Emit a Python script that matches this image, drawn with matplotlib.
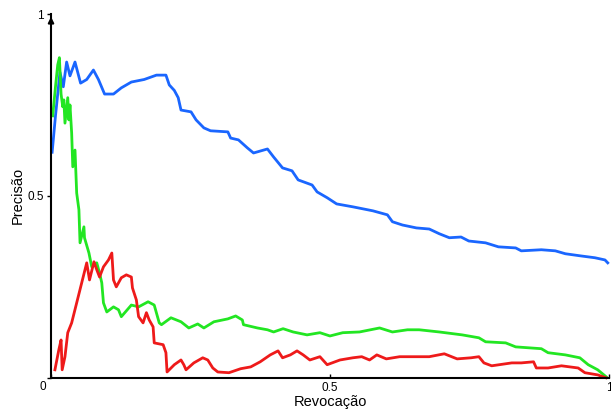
import matplotlib
matplotlib.use("Agg")
import matplotlib.pyplot as plt

plt.rcParams['font.family'] = ['Liberation Sans', 'DejaVu Sans']

# Blue series (recall, precision)
blue_recall = [0.002, 0.008, 0.016, 0.022, 0.028, 0.034, 0.043, 0.053, 0.064, 0.076, 0.085, 0.096,
               0.112, 0.126, 0.144, 0.167, 0.189, 0.206, 0.212, 0.221, 0.228, 0.233, 0.251, 0.26,
               0.274, 0.286, 0.317, 0.322, 0.336, 0.352, 0.363, 0.388, 0.399, 0.415, 0.432, 0.443,
               0.468, 0.477, 0.495, 0.512, 0.541, 0.577, 0.603, 0.612, 0.630, 0.655, 0.678, 0.696,
               0.714, 0.735, 0.749, 0.779, 0.802, 0.833, 0.843, 0.879, 0.904, 0.922, 0.950, 0.975,
               0.993, 0.998]
blue_precision = [0.62, 0.72, 0.84, 0.80, 0.868, 0.83, 0.868, 0.81, 0.82, 0.846, 0.82, 0.78,
                  0.78, 0.797, 0.813, 0.82, 0.832, 0.832, 0.805, 0.79, 0.77, 0.736, 0.731, 0.709,
                  0.687, 0.679, 0.676, 0.659, 0.654, 0.632, 0.618, 0.629, 0.607, 0.577, 0.569, 0.544,
                  0.53, 0.511, 0.495, 0.478, 0.47, 0.459, 0.448, 0.429, 0.42, 0.412, 0.409, 0.396,
                  0.385, 0.387, 0.376, 0.371, 0.36, 0.357, 0.349, 0.352, 0.349, 0.341, 0.335, 0.33,
                  0.324, 0.316]

# Green series
green_recall = [0.003, 0.008, 0.012, 0.015, 0.018, 0.021, 0.023, 0.025, 0.030, 0.032, 0.034, 0.037,
                0.039, 0.043, 0.046, 0.050, 0.052, 0.059, 0.060, 0.068, 0.073, 0.082, 0.087, 0.091,
                0.094, 0.100, 0.112, 0.121, 0.126, 0.144, 0.157, 0.174, 0.185, 0.194, 0.198, 0.215,
                0.233, 0.247, 0.263, 0.274, 0.292, 0.317, 0.331, 0.343, 0.345, 0.370, 0.388, 0.399,
                0.416, 0.434, 0.459, 0.482, 0.500, 0.523, 0.553, 0.589, 0.612, 0.639, 0.660, 0.696,
                0.737, 0.767, 0.779, 0.815, 0.833, 0.879, 0.891, 0.922, 0.948, 0.963, 0.980, 0.995]
green_precision = [0.72, 0.80, 0.86, 0.88, 0.78, 0.745, 0.764, 0.70, 0.77, 0.709, 0.75, 0.673,
                   0.58, 0.626, 0.508, 0.462, 0.371, 0.415, 0.385, 0.343, 0.305, 0.316, 0.288, 0.261,
                   0.206, 0.181, 0.195, 0.187, 0.168, 0.200, 0.195, 0.209, 0.200, 0.151, 0.146, 0.165,
                   0.154, 0.137, 0.148, 0.137, 0.154, 0.162, 0.170, 0.159, 0.146, 0.137, 0.132, 0.126,
                   0.135, 0.126, 0.118, 0.124, 0.115, 0.124, 0.126, 0.137, 0.126, 0.132, 0.132, 0.126,
                   0.118, 0.110, 0.099, 0.096, 0.085, 0.080, 0.069, 0.063, 0.055, 0.036, 0.022, 0.003]

# Red series
red_recall = [0.007, 0.014, 0.018, 0.020, 0.025, 0.030, 0.037, 0.046, 0.055, 0.064, 0.069, 0.077,
              0.082, 0.087, 0.094, 0.103, 0.109, 0.112, 0.117, 0.126, 0.135, 0.144, 0.146, 0.153,
              0.157, 0.165, 0.171, 0.176, 0.183, 0.185, 0.201, 0.206, 0.208, 0.221, 0.233, 0.238,
              0.242, 0.256, 0.272, 0.281, 0.290, 0.299, 0.319, 0.340, 0.358, 0.375, 0.393, 0.407,
              0.415, 0.429, 0.441, 0.452, 0.464, 0.482, 0.495, 0.518, 0.541, 0.557, 0.571, 0.584,
              0.601, 0.625, 0.648, 0.678, 0.705, 0.728, 0.753, 0.767, 0.776, 0.790, 0.826, 0.843,
              0.865, 0.870, 0.891, 0.915, 0.945, 0.957, 0.980, 0.995]
red_precision = [0.022, 0.077, 0.104, 0.022, 0.058, 0.124, 0.151, 0.206, 0.261, 0.316, 0.269, 0.319,
                 0.297, 0.277, 0.305, 0.324, 0.343, 0.269, 0.250, 0.275, 0.283, 0.277, 0.247, 0.214,
                 0.168, 0.151, 0.179, 0.159, 0.140, 0.096, 0.091, 0.069, 0.016, 0.036, 0.049, 0.036,
                 0.022, 0.041, 0.055, 0.049, 0.027, 0.016, 0.014, 0.025, 0.030, 0.044, 0.063, 0.074,
                 0.055, 0.063, 0.074, 0.063, 0.049, 0.058, 0.036, 0.049, 0.055, 0.058, 0.049, 0.063,
                 0.052, 0.058, 0.058, 0.058, 0.066, 0.052, 0.055, 0.058, 0.041, 0.033, 0.041, 0.041,
                 0.044, 0.027, 0.027, 0.033, 0.027, 0.014, 0.008, 0.0]

fig = plt.figure(figsize=(6.11, 4.12), dpi=100)
ax = fig.add_axes([0.0835, 0.083, 0.913, 0.883])

ax.plot(blue_recall, blue_precision, color='#1a66ff', lw=2.0, clip_on=False)
ax.plot(green_recall, green_precision, color='#22e622', lw=2.0, clip_on=False)
ax.plot(red_recall, red_precision, color='#ee1a1a', lw=2.0, clip_on=False)

ax.set_xlim(0, 1)
ax.set_ylim(0, 1)
for s in ['top', 'right']:
    ax.spines[s].set_visible(False)
for s in ['left', 'bottom']:
    ax.spines[s].set_linewidth(1.5)
    ax.spines[s].set_color('black')

ax.annotate('', xy=(0, 1.0), xytext=(0, 0.97), xycoords='axes fraction',
            arrowprops=dict(arrowstyle='-|>', color='black', lw=1.5, mutation_scale=8))

ax.set_xticks([0, 0.5, 1])
ax.set_xticklabels(['', '0.5', '1'])
ax.set_yticks([0, 0.5, 1])
ax.set_yticklabels(['', '0.5', '1'])
ax.tick_params(axis='x', labelsize=8.5, length=3, width=1, pad=3, direction='in')
ax.tick_params(axis='y', labelsize=8.5, length=3, width=1, pad=2, direction='out')
ax.text(-0.008, -0.008, '0', transform=ax.transAxes, ha='right', va='top', fontsize=8.5)

ax.set_xlabel('Revocação', fontsize=10.5, labelpad=1)
ax.set_ylabel('Precisão', fontsize=10.5, labelpad=2)

fig.savefig('out.png', dpi=100)
